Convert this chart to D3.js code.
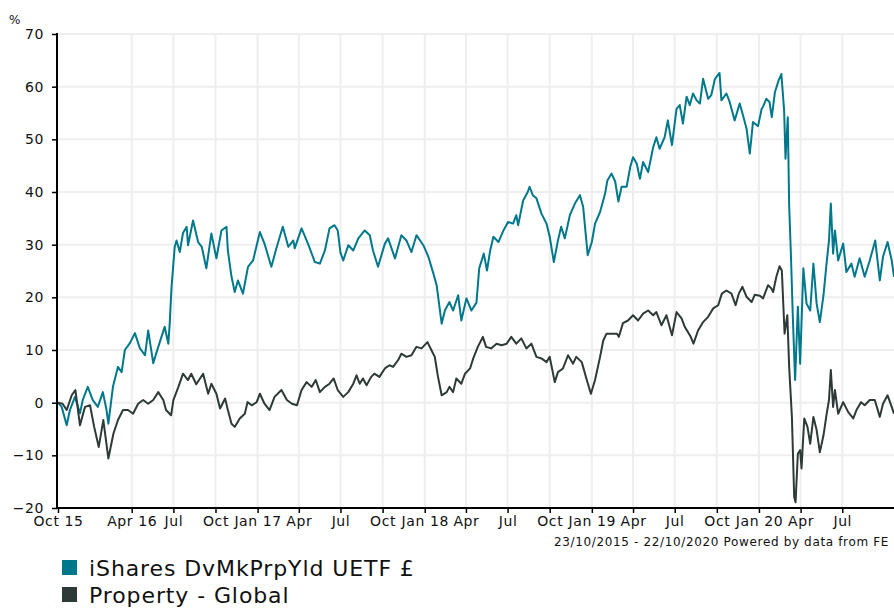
<!DOCTYPE html>
<meta charset="utf-8">
<style>
    body { margin: 0; background: #fff; }
    svg text { font-family: "DejaVu Sans", Verdana, sans-serif; fill: #111; }
    .grid line { stroke: #eeeeee; stroke-width: 2; }
    .axis path, .axis line { stroke: #000; }
</style>
<body>
<script src="https://cdn.jsdelivr.net/npm/d3@7/dist/d3.min.js"></script>
<script>
    // iShares DvMkPrpYld UETF £ (cumulative % return)
    var fundDates = [
        "2015-10-23","2015-10-31","2015-11-11","2015-11-18","2015-11-29","2015-12-10","2015-12-16","2015-12-27",
        "2016-01-07","2016-01-18","2016-01-29","2016-02-06","2016-02-10","2016-02-20","2016-03-02","2016-03-10",
        "2016-03-17","2016-03-28","2016-04-08","2016-04-19","2016-04-30","2016-05-07","2016-05-18","2016-05-29",
        "2016-06-12","2016-06-20","2016-06-23","2016-06-27","2016-07-04","2016-07-08","2016-07-15","2016-07-22",
        "2016-07-30","2016-08-02","2016-08-13","2016-08-24","2016-09-01","2016-09-11","2016-09-22","2016-10-03",
        "2016-10-14","2016-10-25","2016-10-28","2016-11-05","2016-11-12","2016-11-19","2016-11-30","2016-12-11",
        "2016-12-22","2017-01-06","2017-01-16","2017-01-31","2017-02-11","2017-02-25","2017-03-09","2017-03-20",
        "2017-03-23","2017-04-07","2017-04-21","2017-05-06","2017-05-17","2017-05-28","2017-06-07","2017-06-18",
        "2017-06-25","2017-07-01","2017-07-07","2017-07-18","2017-07-29","2017-08-09","2017-08-23","2017-09-03",
        "2017-09-10","2017-09-21","2017-10-06","2017-10-13","2017-10-28","2017-11-11","2017-11-22","2017-12-03",
        "2017-12-14","2017-12-29","2018-01-09","2018-01-20","2018-01-27","2018-02-07","2018-02-14","2018-02-24",
        "2018-03-04","2018-03-15","2018-03-22","2018-04-02","2018-04-13","2018-04-24","2018-04-30","2018-05-10",
        "2018-05-17","2018-05-24","2018-05-31","2018-06-11","2018-06-22","2018-07-02","2018-07-13","2018-07-20",
        "2018-07-24","2018-08-04","2018-08-14","2018-08-18","2018-08-25","2018-09-02","2018-09-13","2018-09-24",
        "2018-10-01","2018-10-10","2018-10-19","2018-10-26","2018-11-03","2018-11-14","2018-11-25","2018-12-06",
        "2018-12-13","2018-12-23","2019-01-01","2019-01-08","2019-01-19","2019-01-30","2019-02-04","2019-02-13",
        "2019-02-21","2019-02-28","2019-03-07","2019-03-18","2019-03-26","2019-04-01","2019-04-09","2019-04-16",
        "2019-04-23","2019-05-04","2019-05-15","2019-05-22","2019-05-29","2019-06-09","2019-06-16","2019-06-25",
        "2019-07-05","2019-07-12","2019-07-19","2019-07-27","2019-08-03","2019-08-10","2019-08-18","2019-08-25",
        "2019-09-01","2019-09-12","2019-09-19","2019-09-27","2019-10-07","2019-10-11","2019-10-22","2019-10-29",
        "2019-11-09","2019-11-20","2019-11-27","2019-12-05","2019-12-12","2019-12-19","2019-12-30","2020-01-07",
        "2020-01-10","2020-01-17","2020-01-24","2020-01-29","2020-02-05","2020-02-13","2020-02-19","2020-02-25",
        "2020-02-28","2020-03-04","2020-03-07","2020-03-11","2020-03-15","2020-03-20","2020-03-26","2020-03-31",
        "2020-04-07","2020-04-14","2020-04-22","2020-04-29","2020-05-06","2020-05-13","2020-05-21","2020-05-28",
        "2020-06-02","2020-06-06","2020-06-11","2020-06-15","2020-06-22","2020-07-03","2020-07-10","2020-07-21",
        "2020-07-28","2020-08-08","2020-08-19","2020-08-30","2020-09-11","2020-09-21","2020-09-28","2020-10-08",
        "2020-10-17","2020-10-22"
    ];
    var fundValues = [
        0, -0.8, -4.3, -1.4, 1.1, -2.0, 0.5, 3.0,
        0.5, -0.8, 2.0, -1.4, -4.0, 3.0, 6.8, 5.8,
        10.0, 11.3, 13.2, 10.3, 9.0, 13.7, 7.5, 10.6,
        14.4, 11.2, 15.0, 22.0, 29.6, 30.8, 28.6, 32.2,
        33.4, 29.9, 34.6, 30.5, 29.6, 25.5, 32.1, 27.4,
        32.7, 33.4, 28.9, 23.9, 21.0, 23.2, 20.7, 25.8,
        27.0, 32.4, 30.2, 25.8, 29.3, 33.4, 29.6, 30.8,
        29.3, 33.1, 30.2, 26.7, 26.4, 28.9, 33.1, 33.7,
        32.7, 28.5, 27.0, 29.9, 28.9, 31.2, 32.7, 31.8,
        28.9, 25.8, 30.2, 31.2, 27.4, 31.8, 30.8, 28.6,
        31.8, 29.9, 27.7, 24.5, 22.3, 15.0, 17.5, 19.1,
        17.5, 20.4, 15.6, 19.8, 17.5, 19.0, 25.5, 28.3,
        25.1, 28.9, 31.5, 30.5, 32.7, 34.3, 34.0, 35.6,
        33.7, 38.4, 40.0, 41.0, 39.4, 38.8, 35.9, 34.0,
        31.5, 26.7, 30.8, 33.4, 31.2, 35.6, 37.8, 39.4,
        37.2, 28.0, 30.5, 34.0, 36.2, 39.7, 42.2, 43.5,
        42.0, 38.2, 41.0, 41.0, 44.8, 46.6, 45.4, 42.5,
        45.7, 43.8, 48.5, 50.4, 48.2, 50.4, 53.6, 48.9,
        55.8, 56.5, 53.0, 58.1, 56.5, 58.7, 57.4, 56.8,
        61.5, 57.7, 58.4, 61.5, 62.6, 57.4, 58.7, 57.1,
        53.6, 56.8, 54.6, 52.0, 47.3, 53.3, 52.5, 55.8,
        56.2, 57.7, 57.1, 54.2, 59.0, 61.2, 62.4, 55.5,
        46.3, 54.2, 37.5, 27.7, 16.3, 4.3, 18.2, 7.4,
        25.5, 18.8, 17.5, 26.4, 18.8, 15.3, 20.4, 26.7,
        30.8, 37.8, 28.3, 32.7, 27.0, 30.2, 24.8, 26.4,
        23.9, 27.4, 23.9, 27.0, 30.8, 23.2, 27.7, 30.5,
        27.0, 23.9
    ];

    // Property - Global sector average (cumulative % return)
    var sectorDates = [
        "2015-10-23","2015-11-02","2015-11-11","2015-11-22","2015-11-30","2015-12-10","2015-12-21","2016-01-01",
        "2016-01-10","2016-01-20","2016-01-30","2016-02-10","2016-02-21","2016-03-02","2016-03-13","2016-03-24",
        "2016-04-04","2016-04-15","2016-04-26","2016-05-07","2016-05-18","2016-05-29","2016-06-09","2016-06-15",
        "2016-06-26","2016-07-01","2016-07-12","2016-07-22","2016-08-02","2016-08-09","2016-08-20","2016-09-04",
        "2016-09-15","2016-09-22","2016-10-03","2016-10-11","2016-10-22","2016-10-28","2016-11-05","2016-11-12",
        "2016-11-23","2016-12-04","2016-12-10","2016-12-19","2016-12-30","2017-01-06","2017-01-16","2017-01-27",
        "2017-02-07","2017-02-22","2017-03-06","2017-03-17","2017-03-28","2017-04-07","2017-04-18","2017-04-29",
        "2017-05-08","2017-05-17","2017-05-28","2017-06-07","2017-06-16","2017-06-25","2017-07-07","2017-07-18",
        "2017-07-29","2017-08-05","2017-08-12","2017-08-19","2017-08-27","2017-09-06","2017-09-13","2017-09-24",
        "2017-10-06","2017-10-16","2017-10-24","2017-11-04","2017-11-11","2017-11-22","2017-12-03","2017-12-14",
        "2017-12-25","2018-01-07","2018-01-16","2018-01-23","2018-01-30","2018-02-07","2018-02-18","2018-02-24",
        "2018-03-04","2018-03-11","2018-03-22","2018-03-30","2018-04-10","2018-04-17","2018-04-27","2018-05-08",
        "2018-05-15","2018-05-26","2018-06-07","2018-06-18","2018-06-29","2018-07-09","2018-07-20","2018-07-31",
        "2018-08-11","2018-08-22","2018-09-02","2018-09-13","2018-09-24","2018-10-01","2018-10-12","2018-10-19",
        "2018-10-30","2018-11-10","2018-11-21","2018-11-28","2018-12-10","2018-12-21","2018-12-30","2019-01-08",
        "2019-01-19","2019-01-26","2019-02-02","2019-02-13","2019-02-25","2019-03-01","2019-03-10","2019-03-21",
        "2019-04-01","2019-04-12","2019-04-23","2019-05-04","2019-05-15","2019-05-22","2019-06-02","2019-06-13",
        "2019-06-25","2019-07-05","2019-07-16","2019-07-23","2019-08-05","2019-08-11","2019-08-21","2019-09-01",
        "2019-09-12","2019-09-23","2019-10-04","2019-10-12","2019-10-22","2019-11-02","2019-11-11","2019-11-18",
        "2019-11-26","2019-12-05","2019-12-16","2019-12-23","2020-01-03","2020-01-10","2020-01-21","2020-01-28",
        "2020-02-01","2020-02-08","2020-02-15","2020-02-20","2020-02-26","2020-03-03","2020-03-07","2020-03-13",
        "2020-03-18","2020-03-21","2020-03-26","2020-03-31","2020-04-03","2020-04-09","2020-04-16","2020-04-22",
        "2020-04-29","2020-05-06","2020-05-13","2020-05-21","2020-05-28","2020-06-02","2020-06-06","2020-06-11",
        "2020-06-15","2020-06-22","2020-07-03","2020-07-14","2020-07-25","2020-08-01","2020-08-11","2020-08-19",
        "2020-08-30","2020-09-10","2020-09-21","2020-09-28","2020-10-08","2020-10-17","2020-10-22"
    ];
    var sectorValues = [
        0, -0.2, -1.4, 1.4, 2.4, -4.3, -0.8, -0.5,
        -4.6, -8.4, -3.3, -10.6, -5.9, -3.3, -1.4, -1.4,
        -2.1, -0.2, 0.5, -0.2, 0.5, 2.0, 0.5, -1.4,
        -2.4, 0.5, 3.0, 5.5, 4.3, 5.5, 3.5, 5.5,
        1.7, 3.6, 1.7, -1.1, 0.8, -1.4, -4.0, -4.6,
        -3.0, -2.1, 0.1, -0.5, 0.1, 1.7, -0.2, -1.4,
        1.1, 2.4, 0.5, -0.2, -0.5, 2.4, 3.9, 3.0,
        4.3, 2.0, 3.0, 3.6, 4.6, 2.4, 1.1, 2.0,
        3.6, 5.2, 3.6, 4.6, 3.3, 4.9, 5.5, 4.9,
        6.5, 7.1, 6.8, 8.1, 9.3, 8.7, 9.0, 10.6,
        10.3, 11.5, 9.9, 8.7, 4.9, 1.4, 2.0, 3.0,
        2.0, 4.6, 3.6, 5.5, 6.5, 8.4, 10.6, 12.5,
        10.6, 10.3, 11.2, 10.9, 11.2, 12.5, 11.2, 12.2,
        10.3, 11.2, 8.7, 8.4, 7.7, 8.7, 3.9, 5.8,
        6.5, 9.0, 7.4, 8.7, 7.7, 4.3, 1.7, 4.3,
        8.7, 11.8, 13.1, 13.1, 13.1, 12.5, 15.1, 15.6,
        16.6, 15.6, 16.9, 17.5, 16.6, 17.2, 14.7, 16.6,
        12.8, 17.2, 16.0, 14.4, 12.5, 11.2, 13.7, 15.3,
        16.3, 17.9, 18.5, 20.7, 21.3, 20.7, 18.5, 20.7,
        22.0, 20.1, 19.1, 20.5, 20.3, 19.8, 22.3, 21.7,
        21.0, 23.9, 25.9, 25.1, 13.1, 16.6, 6.8, -2.7,
        -17.9, -18.9, -9.7, -9.0, -12.5, -3.0, -4.6, -7.8,
        -2.7, -5.2, -9.4, -6.2, -2.1, 0.5, 6.2, -0.8,
        2.4, -2.1, 0.1, -1.8, -3.0, -1.4, 0.1, -0.5,
        0.5, 0.5, -2.7, -0.2, 1.4, -0.8, -2.1
    ];

    var seriesNames = ["iShares DvMkPrpYld UETF £", "Property - Global"];
    var seriesColors = ["#00788c", "#2d3a37"];

    var yTicks = [-20, -10, 0, 10, 20, 30, 40, 50, 60, 70];
    var xTickDates = ["2015-10-23","2016-04-01","2016-07-01","2016-10-01","2017-01-01","2017-04-01","2017-07-01",
        "2017-10-01","2018-01-01","2018-04-01","2018-07-01","2018-10-01","2019-01-01","2019-04-01","2019-07-01",
        "2019-10-01","2020-01-01","2020-04-01","2020-07-01"];
    var xTickLabels = ["Oct 15","Apr 16","Jul","Oct","Jan 17","Apr","Jul","Oct","Jan 18","Apr","Jul","Oct",
        "Jan 19","Apr","Jul","Oct","Jan 20","Apr","Jul"];

    var w = 894, h = 608;
    // plot area edges (named so they don't clash with window.top)
    var plotL = 57, plotR = 894, plotT = 34, plotB = 508;

    var parse = d3.timeParse("%Y-%m-%d");

    var x = d3.scaleTime()
        .domain([parse("2015-10-23"), parse("2020-10-22")])
        .range([plotL + 1, plotR]);
    var y = d3.scaleLinear().domain([-20, 70]).range([plotB, plotT]);

    var svg = d3.select("body").append("svg")
        .attr("width", w)
        .attr("height", h);

    // gridlines
    var grid = svg.append("g").attr("class", "grid");
    grid.selectAll(".hg").data(yTicks.slice(1)).enter().append("line")
        .attr("x1", plotL).attr("x2", plotR)
        .attr("y1", function(d) { return y(d); })
        .attr("y2", function(d) { return y(d); });
    grid.selectAll(".vg").data(xTickDates.slice(1)).enter().append("line")
        .attr("x1", function(d) { return x(parse(d)); })
        .attr("x2", function(d) { return x(parse(d)); })
        .attr("y1", plotT).attr("y2", plotB);

    // lines
    var line = d3.line()
        .x(function(d) { return x(d.date); })
        .y(function(d) { return y(d.value); });

    var fund = fundDates.map(function(d, i) { return {date: parse(d), value: fundValues[i]}; });
    var sector = sectorDates.map(function(d, i) { return {date: parse(d), value: sectorValues[i]}; });

    svg.append("path").datum(fund)
        .attr("d", line).attr("fill", "none")
        .attr("stroke", seriesColors[0]).attr("stroke-width", 2).attr("stroke-linejoin", "round");
    svg.append("path").datum(sector)
        .attr("d", line).attr("fill", "none")
        .attr("stroke", seriesColors[1]).attr("stroke-width", 2).attr("stroke-linejoin", "round");

    // axes
    var yAxis = svg.append("g").attr("class", "axis")
        .attr("transform", "translate(" + plotL + ",0)")
        .call(d3.axisLeft(y).tickValues(yTicks).tickSize(5).tickPadding(8));
    var xAxis = svg.append("g").attr("class", "axis")
        .attr("transform", "translate(0," + plotB + ")")
        .call(d3.axisBottom(x)
            .tickValues(xTickDates.map(parse))
            .tickFormat(function(d, i) { return xTickLabels[i]; })
            .tickSize(5).tickPadding(3));
    svg.selectAll(".axis path").attr("stroke-width", 2);
    svg.selectAll(".axis line").attr("stroke-width", 1.5);
    svg.selectAll(".axis text").attr("font-size", 14).attr("letter-spacing", 0.6)
        .attr("font-family", "DejaVu Sans, Verdana, sans-serif").attr("fill", "#111");
    yAxis.select(".domain").attr("d", "M0," + (plotT - 1) + "V" + (plotB + 1));
    xAxis.select(".domain").attr("d", "M" + plotL + ",0H" + plotR);

    svg.append("text").text("%")
        .attr("x", 9).attr("y", 24).attr("font-size", 12);

    // footer
    svg.append("text").text("23/10/2015 - 22/10/2020 Powered by data from FE")
        .attr("x", 889).attr("y", 546).attr("text-anchor", "end")
        .attr("font-size", 12).attr("letter-spacing", 0.65);

    // legend
    var legend = svg.selectAll(".legend").data(seriesNames).enter().append("g")
        .attr("transform", function(d, i) { return "translate(62," + (560 + i * 27) + ")"; });
    legend.append("rect").attr("width", 15).attr("height", 15)
        .attr("fill", function(d, i) { return seriesColors[i]; });
    legend.append("text").text(function(d) { return d; })
        .attr("x", 27).attr("y", 16).attr("font-size", 22).attr("letter-spacing", 0.9);
</script>
</body>
